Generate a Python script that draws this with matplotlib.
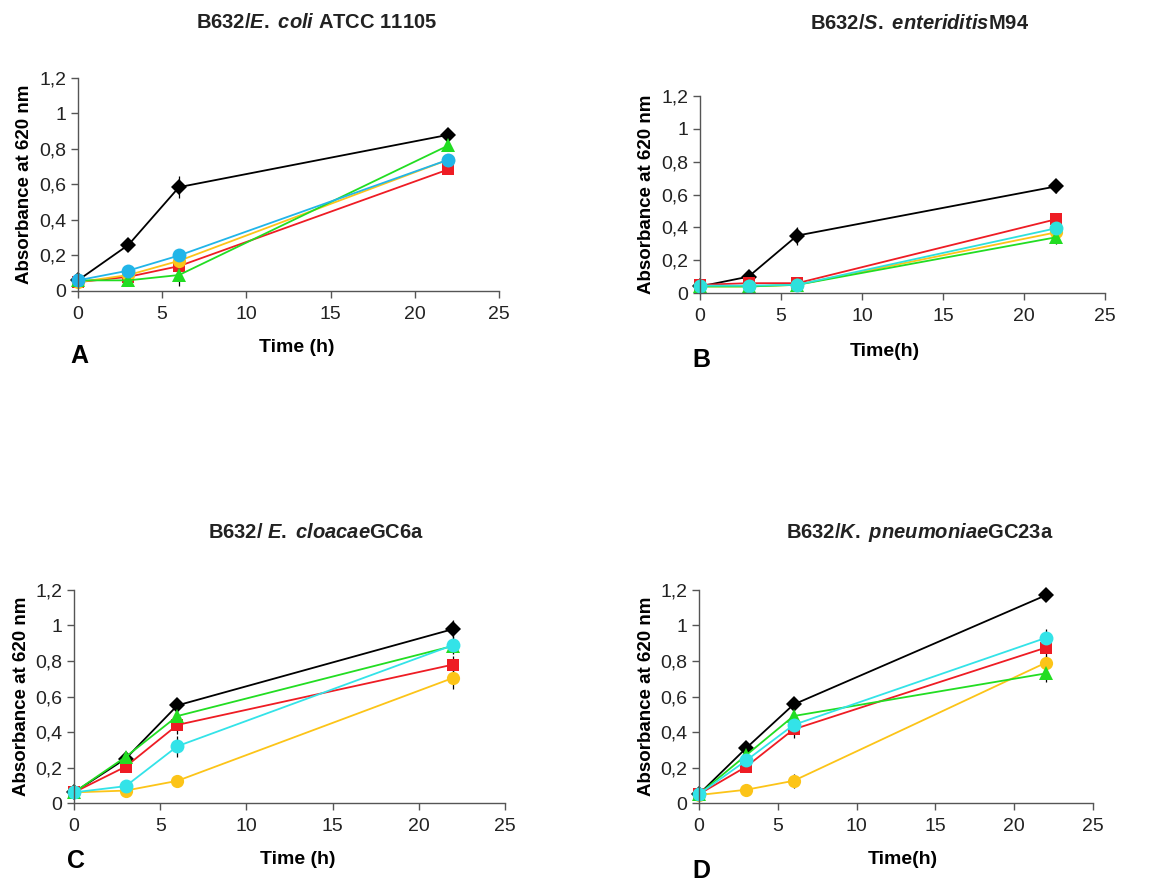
import numpy as np
import matplotlib as m

m.use('Agg')

import matplotlib.pyplot as plt
from matplotlib.ticker import FuncFormatter

plt.rcParams['font.family'] = ['Liberation Sans', 'DejaVu Sans']
plt.rcParams['mathtext.fontset'] = 'custom'
plt.rcParams['mathtext.it'] = 'Liberation Sans:italic:bold'
plt.rcParams['mathtext.rm'] = 'Liberation Sans:bold'

time_h = [0, 3, 6, 22]

# panel A  B632/E. coli ATCC 11105
a_black = [0.06, 0.26, 0.585, 0.88]
a_black_err = [0.03, 0.02, 0.06, 0.025]
a_red = [0.05, 0.08, 0.14, 0.685]
a_red_err = [0.02, 0.01, 0.02, 0.02]
a_yellow = [0.05, 0.09, 0.17, 0.74]
a_yellow_err = [0.01, 0.01, 0.02, 0.02]
a_green = [0.06, 0.06, 0.09, 0.82]
a_green_err = [0.01, 0.01, 0.06, 0.02]
a_cyan = [0.06, 0.115, 0.20, 0.74]
a_cyan_err = [0.01, 0.01, 0.01, 0.02]

# panel B  B632/S. enteriditis M94
b_black = [0.04, 0.10, 0.35, 0.65]
b_black_err = [0.01, 0.025, 0.055, 0.04]
b_red = [0.05, 0.06, 0.06, 0.45]
b_red_err = [0.01, 0.01, 0.01, 0.04]
b_yellow = [0.04, 0.04, 0.05, 0.37]
b_yellow_err = [0.01, 0.01, 0.01, 0.03]
b_green = [0.04, 0.04, 0.05, 0.34]
b_green_err = [0.01, 0.01, 0.03, 0.04]
b_cyan = [0.045, 0.045, 0.05, 0.395]
b_cyan_err = [0.01, 0.01, 0.01, 0.03]

# panel C  B632/ E. cloacae GC6a
c_black = [0.06, 0.25, 0.55, 0.98]
c_black_err = [0.01, 0.02, 0.04, 0.05]
c_red = [0.06, 0.205, 0.44, 0.78]
c_red_err = [0.01, 0.02, 0.05, 0.05]
c_yellow = [0.06, 0.07, 0.125, 0.705]
c_yellow_err = [0.01, 0.01, 0.035, 0.065]
c_green = [0.06, 0.26, 0.49, 0.885]
c_green_err = [0.01, 0.02, 0.03, 0.04]
c_cyan = [0.06, 0.095, 0.32, 0.89]
c_cyan_err = [0.01, 0.01, 0.06, 0.05]

# panel D  B632/K. pneumoniae GC23a
d_black = [0.05, 0.31, 0.555, 1.17]
d_black_err = [0.01, 0.02, 0.03, 0.03]
d_red = [0.05, 0.205, 0.415, 0.875]
d_red_err = [0.01, 0.02, 0.05, 0.05]
d_yellow = [0.045, 0.075, 0.125, 0.79]
d_yellow_err = [0.01, 0.01, 0.04, 0.04]
d_green = [0.05, 0.27, 0.49, 0.73]
d_green_err = [0.01, 0.02, 0.03, 0.05]
d_cyan = [0.05, 0.24, 0.44, 0.93]
d_cyan_err = [0.01, 0.02, 0.03, 0.05]

panels = [
  dict(pos=[0.0668, 0.6723, 0.3608, 0.2399], cyan='#21b5e8',
       data=[(a_black, a_black_err), (a_red, a_red_err), (a_yellow, a_yellow_err),
             (a_green, a_green_err), (a_cyan, a_cyan_err)],
       title=r'B632/$\mathit{E.}$ $\mathit{coli}$ ATCC 11105', tx=0.271, ty=0.975,
       xlab='Time (h)', xlx=0.254, xly=0.609, letter='A', lx=0.060, ly=0.586),
  dict(pos=[0.5998, 0.6700, 0.3470, 0.2218], cyan='#2ee0dc',
       data=[(b_black, b_black_err), (b_red, b_red_err), (b_yellow, b_yellow_err),
             (b_green, b_green_err), (b_cyan, b_cyan_err)],
       title=r'B632/$\mathit{S.}$ $\mathit{enteriditis}$M94', tx=0.788, ty=0.974,
       xlab='Time(h)', xlx=0.758, xly=0.604, letter='B', lx=0.593, ly=0.581),
  dict(pos=[0.0634, 0.0957, 0.3693, 0.2399], cyan='#33e3e8',
       data=[(c_black, c_black_err), (c_red, c_red_err), (c_yellow, c_yellow_err),
             (c_green, c_green_err), (c_cyan, c_cyan_err)],
       title=r'B632/ $\mathit{E.}$ $\mathit{cloacae}$GC6a', tx=0.271, ty=0.400,
       xlab='Time (h)', xlx=0.255, xly=0.032, letter='C', lx=0.057, ly=0.017),
  dict(pos=[0.5990, 0.0957, 0.3376, 0.2399], cyan='#33e3e8',
       data=[(d_black, d_black_err), (d_red, d_red_err), (d_yellow, d_yellow_err),
             (d_green, d_green_err), (d_cyan, d_cyan_err)],
       title=r'B632/$\mathit{K.}$ $\mathit{pneumoniae}$GC23a', tx=0.788, ty=0.400,
       xlab='Time(h)', xlx=0.774, xly=0.032, letter='D', lx=0.593, ly=0.006),
]

def comma(v, pos):
  s = ('%.1f' % v).replace('.', ',')
  if s.endswith(',0'):
    s = s[:-2]
  return s

def main():
  fig = plt.figure(figsize=(11.67, 8.88), dpi=100)
  for p in panels:
    ax = fig.add_axes(p['pos'])
    styles = [('#000000', 'D', 8.5), ('#ee1c24', 's', 9), ('#fcc418', 'o', 9.5),
              ('#22dd22', '^', 9.5), (p['cyan'], 'o', 10)]
    for (y, e), (col, mk, ms) in zip(p['data'], styles):
      ax.errorbar(time_h, y, yerr=e, color=col, marker=mk, markersize=ms,
                  linewidth=1.3, ecolor='black', elinewidth=0.9, capsize=4,
                  capthick=0.9, markeredgewidth=0, clip_on=False)
    ax.set_xlim(0, 25)
    ax.set_ylim(0, 1.2)
    ax.set_xticks([0, 5, 10, 15, 20, 25])
    ax.set_yticks([0, 0.2, 0.4, 0.6, 0.8, 1.0, 1.2])
    ax.yaxis.set_major_formatter(FuncFormatter(comma))
    for s in ['top', 'right']:
      ax.spines[s].set_visible(False)
    for s in ['left', 'bottom']:
      ax.spines[s].set_color('#555555')
      ax.spines[s].set_linewidth(1.0)
    ax.tick_params(direction='out', length=5, width=1, color='#555555',
                   labelsize=14, labelcolor='#222222')
    ax.tick_params(axis='x', pad=6)
    ax.set_ylabel('Absorbance at 620 nm', fontsize=13.5, fontweight='bold')
    fig.text(p['tx'], p['ty'], p['title'], fontsize=14.5, fontweight='bold',
             ha='center', va='center', color='#222222')
    fig.text(p['xlx'], p['xly'], p['xlab'], fontsize=14, fontweight='bold',
             ha='center', va='center')
    fig.text(p['lx'], p['ly'], p['letter'], fontsize=18, fontweight='bold',
             ha='left', va='bottom')
  plt.savefig('out.png', dpi=100)

if __name__ == '__main__':
  main()
